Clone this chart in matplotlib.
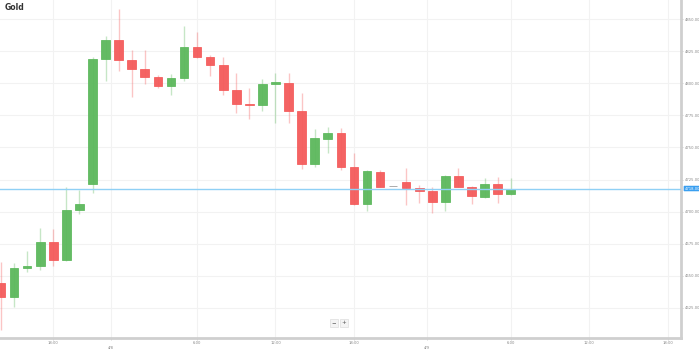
import numpy as np
import matplotlib.pyplot as plt

# hourly candles
opens = [4644.4, 4633.5, 4656.1, 4657.6, 4676.3, 4662.3, 4701.2, 4721.5, 4818.8, 4833.6,
         4818.1, 4811.1, 4804.8, 4797.8, 4804.1, 4828.2, 4820.4, 4814.2, 4794.7, 4783.8,
         4783.0, 4799.4, 4800.2, 4778.4, 4737.1, 4756.5, 4761.2, 4734.7, 4705.9, 4730.8,
         4719.9, 4723.1, 4718.4, 4716.0, 4707.5, 4727.7, 4719.2, 4711.4, 4721.5, 4713.7]
closes = [4633.5, 4656.1, 4657.6, 4676.3, 4662.3, 4701.2, 4705.9, 4818.8, 4833.6, 4818.1,
          4811.1, 4804.8, 4797.8, 4804.1, 4828.2, 4820.4, 4814.2, 4794.7, 4783.8, 4783.0,
          4799.4, 4800.9, 4778.4, 4737.1, 4757.3, 4761.2, 4734.7, 4705.9, 4731.6, 4719.2,
          4719.9, 4718.4, 4716.0, 4707.5, 4727.7, 4719.2, 4712.2, 4721.5, 4713.7, 4718.0]
highs = [4660.8, 4659.9, 4669.3, 4687.2, 4686.5, 4719.2, 4716.8, 4820.4, 4836.8, 4857.8,
         4825.9, 4825.9, 4806.4, 4807.2, 4844.5, 4839.9, 4822.0, 4820.4, 4807.9, 4796.3,
         4803.3, 4807.9, 4807.9, 4792.4, 4764.3, 4765.9, 4765.1, 4745.6, 4732.4, 4732.4,
         4719.9, 4734.0, 4720.7, 4719.2, 4728.5, 4734.0, 4719.9, 4726.2, 4726.9, 4726.2]
lows = [4607.8, 4625.7, 4653.0, 4654.5, 4657.6, 4661.5, 4698.1, 4714.5, 4801.7, 4809.5,
        4789.3, 4799.4, 4796.3, 4790.8, 4801.7, 4819.6, 4805.6, 4790.8, 4776.8, 4772.1,
        4778.4, 4769.0, 4769.0, 4733.2, 4734.7, 4745.6, 4732.4, 4705.1, 4700.5, 4719.2,
        4719.9, 4705.1, 4706.7, 4698.9, 4700.5, 4719.2, 4705.9, 4710.6, 4706.7, 4712.9]

# time axis ticks (in candle index units)
tick_pos = [4, 8.4, 15, 21, 27, 32.6, 39, 45, 51]
tick_labels = ["18:00", "\n4/8", "6:00", "12:00", "18:00", "\n4/9", "6:00", "12:00", "18:00"]
price_ticks = [4625, 4650, 4675, 4700, 4725, 4750, 4775, 4800, 4825, 4850]

GREEN = "#5cb85c"
RED = "#f45b5b"
GREY = "#999999"

o = np.array(opens)
c = np.array(closes)
h = np.array(highs)
l = np.array(lows)
x = np.arange(len(o))

fig = plt.figure(figsize=(6.99, 3.52), dpi=100)
ax = fig.add_axes([0, 14 / 352, 681 / 699, 338 / 352])

colors = np.where(c > o, GREEN, np.where(c < o, RED, GREY))

ax.vlines(x, l, h, colors=colors, alpha=0.35, lw=1, zorder=2)
body_lo = np.minimum(o, c)
body_h = np.abs(c - o)
ax.bar(x, body_h, 0.66, bottom=body_lo, color=colors, edgecolor=colors,
       linewidth=0.6, alpha=0.95, zorder=3)

# current price line + label
last = c[-1]
ax.axhline(last, color="#8fd0f5", lw=1, zorder=4)
ax.text(1.005, last, "%.2f" % last, transform=ax.get_yaxis_transform(),
        fontsize=2.7, color="white", va="center", ha="left", zorder=6,
        bbox=dict(boxstyle="round,pad=0.2", fc="#3a9ff0", ec="none"), clip_on=False)

ax.set_xlim(-0.08, 52.03)
ax.set_ylim(4601.6, 4864.8)

ax.set_yticks(price_ticks)
ax.set_yticklabels(["%.2f" % p for p in price_ticks])
ax.yaxis.tick_right()
ax.set_xticks(tick_pos)
ax.set_xticklabels(tick_labels, linespacing=1.1)
ax.tick_params(axis="both", labelsize=2.7, colors="#cccccc", labelcolor="#888888",
               length=1.5, width=0.6, pad=1)

ax.grid(True, color="#f2f2f2", lw=0.8, zorder=0)
ax.set_axisbelow(True)

for s in ["top", "left"]:
    ax.spines[s].set_visible(False)
ax.spines["right"].set_color("#cfcfcf")
ax.spines["right"].set_linewidth(2)
ax.spines["bottom"].set_color("#cfcfcf")
ax.spines["bottom"].set_linewidth(2)

ax.text(5 / 681, 1 - 8 / 338, "Gold", transform=ax.transAxes, fontsize=5.5,
        fontweight="bold", color="#333333", va="center", ha="left")

# zoom buttons
ax.text(0.4905, 0.045, "\u2212", transform=ax.transAxes, fontsize=4, color="#555555",
        ha="center", va="center",
        bbox=dict(boxstyle="square,pad=0.3", fc="#f4f4f4", ec="#dddddd", lw=0.5))
ax.text(0.5045, 0.045, "+", transform=ax.transAxes, fontsize=4, color="#555555",
        ha="center", va="center",
        bbox=dict(boxstyle="square,pad=0.3", fc="#f4f4f4", ec="#dddddd", lw=0.5))

fig.savefig("out.png", dpi=100)
